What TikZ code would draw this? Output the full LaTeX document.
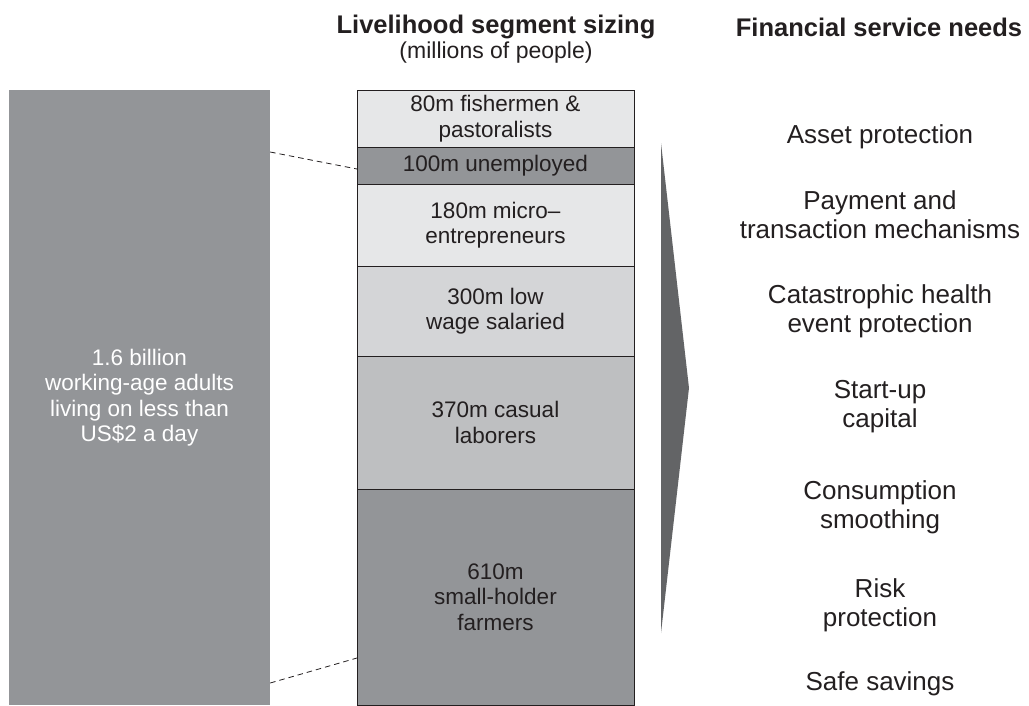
\documentclass[tikz,border=0pt]{standalone}
\usepackage{fontspec}
\setmainfont{Liberation Sans}
\usetikzlibrary{positioning}

\definecolor{midgrey}{HTML}{939598}
\definecolor{palegrey}{HTML}{E6E7E8}
\definecolor{lightgrey}{HTML}{D4D5D7}
\definecolor{softgrey}{HTML}{BEBFC1}
\definecolor{arrowgrey}{HTML}{636466}
\definecolor{inkgrey}{HTML}{231F20}

\tikzset{
  heading/.style={font=\fontsize{25.5}{28}\selectfont\bfseries, text=inkgrey, inner sep=0pt},
  seg/.style={draw=inkgrey, line width=1pt, minimum width=277pt, inner sep=0pt, outer sep=0pt,
    align=center, text=inkgrey, font=\fontsize{22.5}{25.5}\selectfont},
  total/.style={fill=midgrey, minimum width=261pt, minimum height=615pt, inner sep=0pt,
    align=center, text=white, font=\fontsize{22.5}{25.5}\selectfont},
  need/.style={align=center, text=inkgrey, inner sep=0pt, font=\fontsize{26}{29}\selectfont},
  cut/.style={draw=inkgrey, line width=0.8pt, dash pattern=on 5.5pt off 4pt}
}

\begin{document}
\begin{tikzpicture}[x=1pt,y=-1pt]
\useasboundingbox (0,0) rectangle (1029,705);

% Headings
\node[heading] (sizing) at (496,27) {Livelihood segment sizing};
\node[need, font=\fontsize{23}{26}\selectfont] (units) at (496,53) {(millions of people)};
\node[heading] (needs) at (879,27) {Financial service needs};

% Total population
\node[total] (world) at (139.5,397.5) {1.6 billion\\working-age adults\\living on less than\\US\$2 a day};

% Segments
\node[seg, fill=palegrey, minimum height=57pt, anchor=north] (fish) at (495.5,90) {80m fishermen \&\\pastoralists};
\node[seg, fill=midgrey, minimum height=37pt, below=0pt of fish] (unemp) {100m unemployed};
\node[seg, fill=palegrey, minimum height=82pt, below=0pt of unemp] (micro) {180m micro--\\entrepreneurs};
\node[seg, fill=lightgrey, minimum height=90pt, below=0pt of micro] (wage) {300m low\\wage salaried};
\node[seg, fill=softgrey, minimum height=133pt, below=0pt of wage] (casual) {370m casual\\laborers};
\node[seg, fill=midgrey, minimum height=216pt, below=0pt of casual] (small) {610m\\small-holder\\farmers};

% Zoom lines
\draw[cut] (world.east |- 0,152) -- (unemp.west |- 0,169);
\draw[cut] (world.east |- 0,683) -- (small.west |- 0,658);

% Arrow
\fill[arrowgrey] (661,143) -- (689,388) -- (661,633) -- cycle;

% Needs
\node[need] (asset) at (880,137) {Asset protection};
\node[need] (payment) at (880,215) {Payment and\\transaction mechanisms};
\node[need] (health) at (880,311) {Catastrophic health\\event protection};
\node[need] (startup) at (880,407) {Start-up\\capital};
\node[need] (smooth) at (880,507) {Consumption\\smoothing};
\node[need] (risk) at (880,605) {Risk\\protection};
\node[need] (savings) at (880,684) {Safe savings};
\end{tikzpicture}
\end{document}
